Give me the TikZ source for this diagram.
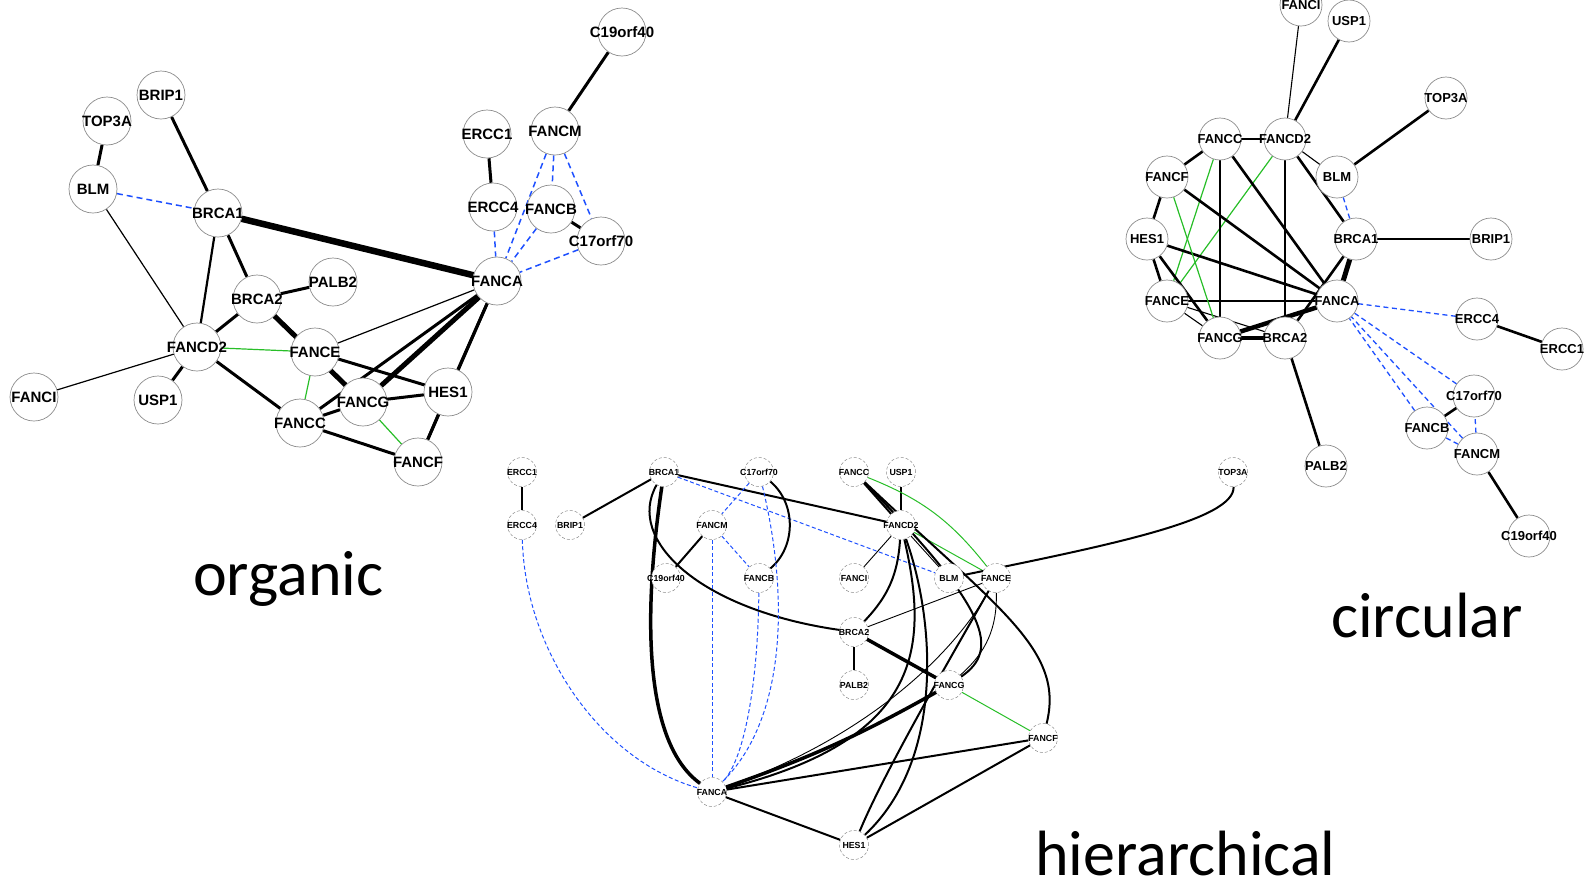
\documentclass[tikz,border=0pt]{standalone}
\usepackage{fontspec}
\setmainfont{Liberation Sans}
\newfontfamily\calibri{Carlito}
\usetikzlibrary{backgrounds}
\definecolor{linkblue}{RGB}{30,80,255}
\definecolor{linkgreen}{RGB}{40,190,40}
\definecolor{ringgray}{RGB}{140,140,140}
\newcommand{\gene}[1]{\makebox[0pt]{#1}}

\begin{document}
\begin{tikzpicture}[x=1pt,y=-1pt,
  protein/.style={circle,draw=ringgray,fill=white,inner sep=0pt,line width=0.7pt},
  onode/.style={protein,minimum size=48pt,font=\fontsize{15}{15}\selectfont\bfseries},
  cnode/.style={protein,minimum size=42pt,font=\fontsize{13}{13}\selectfont\bfseries},
  hnode/.style={protein,minimum size=29pt,densely dashed,line width=0.5pt,
                font=\fontsize{8.8}{9}\selectfont\bfseries},
  layoutname/.style={font=\calibri\fontsize{64}{64}\selectfont,anchor=base west,
                     inner sep=0pt,text depth=0pt},
  greenlink/.style={draw=linkgreen,line width=1.2pt},
  dashlink/.style={draw=linkblue,line width=1.5pt,dash pattern=on 6pt off 4pt}
]
  \useasboundingbox (0,0) rectangle (1591,884);

  % Organic layout
  \node[onode] (o-C19orf40) at (622, 32) {\gene{C19orf40}};
  \node[onode] (o-BRIP1)    at (161, 95) {\gene{BRIP1}};
  \node[onode] (o-TOP3A)    at (107,121) {\gene{TOP3A}};
  \node[onode] (o-BLM)      at ( 93,189) {\gene{BLM}};
  \node[onode] (o-BRCA1)    at (218,213) {\gene{BRCA1}};
  \node[onode] (o-ERCC1)    at (487,134) {\gene{ERCC1}};
  \node[onode] (o-FANCM)    at (555,131) {\gene{FANCM}};
  \node[onode] (o-ERCC4)    at (493,207) {\gene{ERCC4}};
  \node[onode] (o-FANCB)    at (551,209) {\gene{FANCB}};
  \node[onode] (o-C17orf70) at (601,241) {\gene{C17orf70}};
  \node[onode] (o-FANCA)    at (497,281) {\gene{FANCA}};
  \node[onode] (o-PALB2)    at (333,282) {\gene{PALB2}};
  \node[onode] (o-BRCA2)    at (257,299) {\gene{BRCA2}};
  \node[onode] (o-FANCD2)   at (197,347) {\gene{FANCD2}};
  \node[onode] (o-FANCE)    at (315,352) {\gene{FANCE}};
  \node[onode] (o-FANCI)    at ( 34,397) {\gene{FANCI}};
  \node[onode] (o-USP1)     at (158,400) {\gene{USP1}};
  \node[onode] (o-HES1)     at (448,392) {\gene{HES1}};
  \node[onode] (o-FANCG)    at (363,402) {\gene{FANCG}};
  \node[onode] (o-FANCC)    at (300,423) {\gene{FANCC}};
  \node[onode] (o-FANCF)    at (418,462) {\gene{FANCF}};

  \begin{scope}[on background layer,
    thinlink/.style={line width=1.2pt}, midlink/.style={line width=2.2pt},
    thicklink/.style={line width=3pt}, heavylink/.style={line width=5pt},
    maxlink/.style={line width=6.5pt}]
    \draw[thicklink] (o-C19orf40) -- (o-FANCM);
    \draw[thicklink] (o-BRIP1) -- (o-BRCA1);
    \draw[thicklink] (o-TOP3A) -- (o-BLM);
    \draw[dashlink]  (o-BLM) -- (o-BRCA1);
    \draw[thinlink]  (o-BLM) -- (o-FANCD2);
    \draw[maxlink]   (o-BRCA1) -- (o-FANCA);
    \draw[midlink]   (o-BRCA1) -- (o-FANCD2);
    \draw[thicklink] (o-BRCA1) -- (o-BRCA2);
    \draw[thicklink] (o-ERCC1) -- (o-ERCC4);
    \draw[dashlink]  (o-FANCM) -- (o-FANCB);
    \draw[dashlink]  (o-FANCM) -- (o-FANCA);
    \draw[dashlink]  (o-FANCM) -- (o-C17orf70);
    \draw[dashlink]  (o-ERCC4) -- (o-FANCA);
    \draw[dashlink]  (o-FANCB) -- (o-FANCA);
    \draw[thicklink] (o-FANCB) -- (o-C17orf70);
    \draw[dashlink]  (o-C17orf70) -- (o-FANCA);
    \draw[thicklink] (o-PALB2) -- (o-BRCA2);
    \draw[thicklink] (o-BRCA2) -- (o-FANCD2);
    \draw[heavylink] (o-BRCA2) -- (o-FANCG);
    \draw[thinlink]  (o-BRCA2) -- (o-FANCE);
    \draw[greenlink] (o-FANCD2) -- (o-FANCE);
    \draw[thinlink]  (o-FANCD2) -- (o-FANCI);
    \draw[thicklink] (o-FANCD2) -- (o-USP1);
    \draw[thicklink] (o-FANCD2) -- (o-FANCC);
    \draw[thinlink]  (o-FANCE) -- (o-FANCA);
    \draw[thicklink] (o-FANCE) -- (o-HES1);
    \draw[greenlink] (o-FANCE) -- (o-FANCC);
    \draw[thinlink]  (o-FANCE) -- (o-FANCG);
    \draw[heavylink] (o-FANCA) -- (o-FANCG);
    \draw[thicklink] (o-FANCA) -- (o-FANCC);
    \draw[thicklink] (o-FANCA) -- (o-HES1);
    \draw[thicklink] (o-FANCA) -- (o-FANCF);
    \draw[thicklink] (o-FANCG) -- (o-HES1);
    \draw[thicklink] (o-FANCG) -- (o-FANCC);
    \draw[greenlink] (o-FANCG) -- (o-FANCF);
    \draw[thicklink] (o-FANCC) -- (o-FANCF);
    \draw[thicklink] (o-HES1) -- (o-FANCF);
  \end{scope}

  % Circular layout
  \node[cnode] (c-FANCI)    at (1301,  5) {\gene{FANCI}};
  \node[cnode] (c-USP1)     at (1349, 21) {\gene{USP1}};
  \node[cnode] (c-TOP3A)    at (1446, 98) {\gene{TOP3A}};
  \node[cnode] (c-FANCC)    at (1220,139) {\gene{FANCC}};
  \node[cnode] (c-FANCD2)   at (1285,139) {\gene{FANCD2}};
  \node[cnode] (c-FANCF)    at (1167,177) {\gene{FANCF}};
  \node[cnode] (c-BLM)      at (1337,177) {\gene{BLM}};
  \node[cnode] (c-HES1)     at (1147,239) {\gene{HES1}};
  \node[cnode] (c-BRCA1)    at (1356,239) {\gene{BRCA1}};
  \node[cnode] (c-BRIP1)    at (1491,239) {\gene{BRIP1}};
  \node[cnode] (c-FANCE)    at (1167,301) {\gene{FANCE}};
  \node[cnode] (c-FANCA)    at (1337,301) {\gene{FANCA}};
  \node[cnode] (c-ERCC4)    at (1477,319) {\gene{ERCC4}};
  \node[cnode] (c-ERCC1)    at (1562,349) {\gene{ERCC1}};
  \node[cnode] (c-FANCG)    at (1220,338) {\gene{FANCG}};
  \node[cnode] (c-BRCA2)    at (1285,338) {\gene{BRCA2}};
  \node[cnode] (c-C17orf70) at (1474,396) {\gene{C17orf70}};
  \node[cnode] (c-FANCB)    at (1427,428) {\gene{FANCB}};
  \node[cnode] (c-FANCM)    at (1477,454) {\gene{FANCM}};
  \node[cnode] (c-PALB2)    at (1326,466) {\gene{PALB2}};
  \node[cnode] (c-C19orf40) at (1529,536) {\gene{C19orf40}};

  \begin{scope}[on background layer,
    thinlink/.style={line width=1.1pt}, midlink/.style={line width=2.6pt},
    thicklink/.style={line width=2.6pt}, heavylink/.style={line width=4.5pt},
    maxlink/.style={line width=5pt},
    dashlink/.style={draw=linkblue,line width=1.3pt,dash pattern=on 5pt off 3.5pt}]
    \draw[thicklink] (c-C19orf40) -- (c-FANCM);
    \draw[thicklink] (c-BRIP1) -- (c-BRCA1);
    \draw[thicklink] (c-TOP3A) -- (c-BLM);
    \draw[dashlink]  (c-BLM) -- (c-BRCA1);
    \draw[thinlink]  (c-BLM) -- (c-FANCD2);
    \draw[maxlink]   (c-BRCA1) -- (c-FANCA);
    \draw[midlink]   (c-BRCA1) -- (c-FANCD2);
    \draw[thicklink] (c-BRCA1) -- (c-BRCA2);
    \draw[thicklink] (c-ERCC1) -- (c-ERCC4);
    \draw[dashlink]  (c-FANCM) -- (c-FANCB);
    \draw[dashlink]  (c-FANCM) -- (c-FANCA);
    \draw[dashlink]  (c-FANCM) -- (c-C17orf70);
    \draw[dashlink]  (c-ERCC4) -- (c-FANCA);
    \draw[dashlink]  (c-FANCB) -- (c-FANCA);
    \draw[thicklink] (c-FANCB) -- (c-C17orf70);
    \draw[dashlink]  (c-C17orf70) -- (c-FANCA);
    \draw[thicklink] (c-PALB2) -- (c-BRCA2);
    \draw[thicklink] (c-BRCA2) -- (c-FANCD2);
    \draw[heavylink] (c-BRCA2) -- (c-FANCG);
    \draw[thinlink]  (c-BRCA2) -- (c-FANCE);
    \draw[greenlink] (c-FANCD2) -- (c-FANCE);
    \draw[thinlink]  (c-FANCD2) -- (c-FANCI);
    \draw[thicklink] (c-FANCD2) -- (c-USP1);
    \draw[thicklink] (c-FANCD2) -- (c-FANCC);
    \draw[thinlink]  (c-FANCE) -- (c-FANCA);
    \draw[thicklink] (c-FANCE) -- (c-HES1);
    \draw[greenlink] (c-FANCE) -- (c-FANCC);
    \draw[thinlink]  (c-FANCE) -- (c-FANCG);
    \draw[heavylink] (c-FANCA) -- (c-FANCG);
    \draw[thicklink] (c-FANCA) -- (c-FANCC);
    \draw[thicklink] (c-FANCA) -- (c-HES1);
    \draw[thicklink] (c-FANCA) -- (c-FANCF);
    \draw[thicklink] (c-FANCG) -- (c-HES1);
    \draw[thicklink] (c-FANCG) -- (c-FANCC);
    \draw[greenlink] (c-FANCG) -- (c-FANCF);
    \draw[thicklink] (c-FANCC) -- (c-FANCF);
    \draw[thicklink] (c-HES1) -- (c-FANCF);
  \end{scope}

  % Hierarchical layout
  \node[hnode] (h-ERCC1)    at ( 522,472) {\gene{ERCC1}};
  \node[hnode] (h-BRCA1)    at ( 664,472) {\gene{BRCA1}};
  \node[hnode] (h-C17orf70) at ( 759,472) {\gene{C17orf70}};
  \node[hnode] (h-FANCC)    at ( 854,472) {\gene{FANCC}};
  \node[hnode] (h-USP1)     at ( 901,472) {\gene{USP1}};
  \node[hnode] (h-TOP3A)    at (1233,472) {\gene{TOP3A}};
  \node[hnode] (h-ERCC4)    at ( 522,525) {\gene{ERCC4}};
  \node[hnode] (h-BRIP1)    at ( 570,525) {\gene{BRIP1}};
  \node[hnode] (h-FANCM)    at ( 712,525) {\gene{FANCM}};
  \node[hnode] (h-FANCD2)   at ( 901,525) {\gene{FANCD2}};
  \node[hnode] (h-C19orf40) at ( 666,578) {\gene{C19orf40}};
  \node[hnode] (h-FANCB)    at ( 759,578) {\gene{FANCB}};
  \node[hnode] (h-FANCI)    at ( 854,578) {\gene{FANCI}};
  \node[hnode] (h-BLM)      at ( 949,578) {\gene{BLM}};
  \node[hnode] (h-FANCE)    at ( 996,578) {\gene{FANCE}};
  \node[hnode] (h-BRCA2)    at ( 854,632) {\gene{BRCA2}};
  \node[hnode] (h-PALB2)    at ( 854,685) {\gene{PALB2}};
  \node[hnode] (h-FANCG)    at ( 949,685) {\gene{FANCG}};
  \node[hnode] (h-FANCF)    at (1043,738) {\gene{FANCF}};
  \node[hnode] (h-FANCA)    at ( 712,792) {\gene{FANCA}};
  \node[hnode] (h-HES1)     at ( 854,845) {\gene{HES1}};

  \begin{scope}[on background layer,
    thinlink/.style={line width=0.9pt}, thicklink/.style={line width=2pt},
    heavylink/.style={line width=3.5pt},
    greenlink/.style={draw=linkgreen,line width=1pt},
    dashlink/.style={draw=linkblue,line width=1pt,dash pattern=on 4pt off 2.5pt}]
    \draw[thicklink] (h-ERCC1) -- (h-ERCC4);
    \draw[dashlink]  (h-ERCC4) .. controls (525,650) and (600,760) .. (h-FANCA);
    \draw[thicklink] (h-BRCA1) -- (h-BRIP1);
    \draw[thicklink] (h-BRCA1) -- (h-FANCD2);
    \draw[dashlink]  (h-BRCA1) -- (h-BLM);
    \draw[heavylink] (h-BRCA1) .. controls (645,600) and (640,740) .. (h-FANCA);
    \draw[thicklink] (h-BRCA1) .. controls (625,540) and (700,610) .. (h-BRCA2);
    \draw[dashlink]  (h-C17orf70) -- (h-FANCM);
    \draw[thicklink] (h-C17orf70) to[bend left=50] (h-FANCB);
    \draw[dashlink]  (h-C17orf70) .. controls (790,600) and (785,720) .. (h-FANCA);
    \draw[dashlink]  (h-FANCB) .. controls (758,680) and (745,760) .. (h-FANCA);
    \draw[dashlink]  (h-FANCM) -- (h-FANCA);
    \draw[dashlink]  (h-FANCM) -- (h-FANCB);
    \draw[thicklink] (h-FANCM) -- (h-C19orf40);
    \draw[thicklink] (h-FANCC) -- (h-FANCD2);
    \draw[thicklink] (h-USP1) -- (h-FANCD2);
    \draw[thinlink]  (h-FANCD2) -- (h-FANCI);
    \draw[thinlink]  (h-FANCD2) -- (h-BLM);
    \draw[greenlink] (h-FANCD2) -- (h-FANCE);
    \draw[greenlink] (h-FANCC) to[bend left=15] (h-FANCE);
    \draw[thicklink] (h-FANCD2) to[bend left=20] (h-BRCA2);
    \draw[thicklink] (h-FANCC) .. controls (990,610) and (1000,650) .. (h-FANCG);
    \draw[thicklink] (h-FANCC) .. controls (1000,610) and (1065,650) .. (h-FANCF);
    \draw[thicklink] (h-FANCD2) .. controls (935,620) and (945,760) .. (h-HES1);
    \draw[thicklink] (h-FANCD2) .. controls (930,650) and (920,740) .. (h-FANCA);
    \draw[thicklink] (h-TOP3A) .. controls (1235,520) and (1110,545) .. (h-BLM);
    \draw[thinlink]  (h-BRCA2) -- (h-FANCE);
    \draw[thicklink] (h-BRCA2) -- (h-PALB2);
    \draw[heavylink] (h-BRCA2) -- (h-FANCG);
    \draw[greenlink] (h-FANCG) -- (h-FANCF);
    \draw[thinlink]  (h-FANCE) to[bend left=25] (h-FANCG);
    \draw[thinlink]  (h-FANCE) .. controls (950,660) and (860,740) .. (h-FANCA);
    \draw[thicklink] (h-FANCE) .. controls (955,650) and (885,770) .. (h-HES1);
    \draw[heavylink] (h-FANCG) to[bend left=5] (h-FANCA);
    \draw[thicklink] (h-FANCA) -- (h-FANCF);
    \draw[thicklink] (h-FANCA) -- (h-HES1);
    \draw[thicklink] (h-HES1) -- (h-FANCF);
  \end{scope}

  % Layout names
  \node[layoutname] (organic)      at ( 193,595) {organic};
  \node[layoutname] (circular)     at (1331,637) {circular};
  \node[layoutname] (hierarchical) at (1035,875) {hierarchical};
\end{tikzpicture}
\end{document}
